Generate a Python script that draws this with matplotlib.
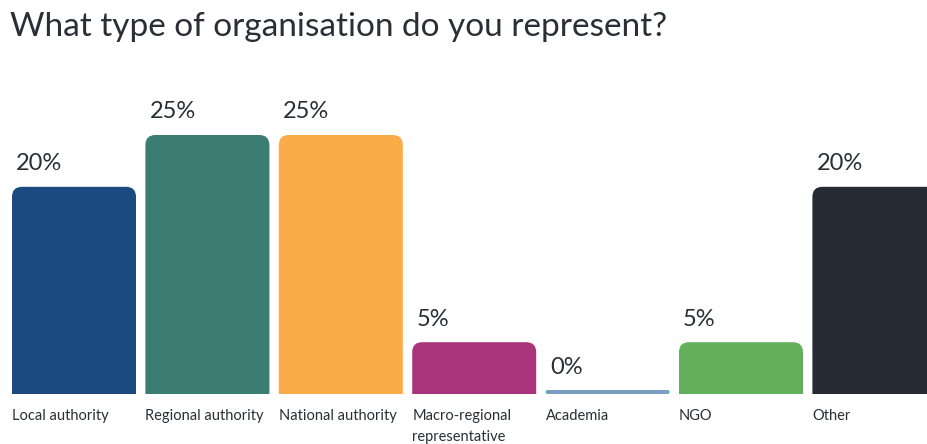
import matplotlib.pyplot as plt
from matplotlib.patches import FancyBboxPatch

categories = ["Local authority", "Regional authority", "National authority",
              "Macro-regional\nrepresentative", "Academia", "NGO", "Other"]
values = [20, 25, 25, 5, 0, 5, 20]
labels = ["20%", "25%", "25%", "5%", "0%", "5%", "20%"]
colors = ["#1b4a80", "#3b7d72", "#fbab47", "#a9347c", "#7b9dc2", "#62b05b", "#262a33"]

plt.rcParams['font.family'] = ['Lato', 'DejaVu Sans']
txt = "#2b2e36"

W, H = 928, 444
fig = plt.figure(figsize=(W / 100, H / 100), dpi=100)

pitch = 133.4   # px between bars
px_pct = 10.36  # px per percent
base = 50       # px from bottom of figure

ax = fig.add_axes([0, base / H, 1, (H - base) / H])
ax.set_xlim(-74 / pitch, (W - 74) / pitch)
ax.set_ylim(0, (H - base) / px_pct)
ax.axis("off")

bw = 124 / pitch
asp = pitch / px_pct
r = 10 / pitch

for i, (v, c, lab, cat) in enumerate(zip(values, colors, labels, categories)):
    x0 = i - bw / 2
    if v > 0:
        # start below the axis so the bottom corners get clipped square
        ax.add_patch(FancyBboxPatch((x0, -2), bw, v + 2,
                                    boxstyle=f"round,pad=0,rounding_size={r}",
                                    mutation_aspect=asp, fc=c, ec="none"))
        top = v
    else:
        h = 4 / px_pct
        ax.add_patch(FancyBboxPatch((x0, 0), bw, h,
                                    boxstyle=f"round,pad=0,rounding_size={2 / pitch}",
                                    mutation_aspect=asp, fc=c, ec="none"))
        top = h
    ax.annotate(lab, (x0, top), xytext=(3, 9), textcoords="offset points",
                ha="left", va="bottom", fontsize=17, color=txt)
    ax.annotate(cat, (x0, 0), xytext=(0, -11), textcoords="offset points",
                ha="left", va="top", fontsize=10.5, color=txt, linespacing=1.6,
                annotation_clip=False)

fig.text(10 / W, 1 - 12 / H, "What type of organisation do you represent?",
         ha="left", va="top", fontsize=24, color=txt)

fig.savefig("out.png", dpi=100)
